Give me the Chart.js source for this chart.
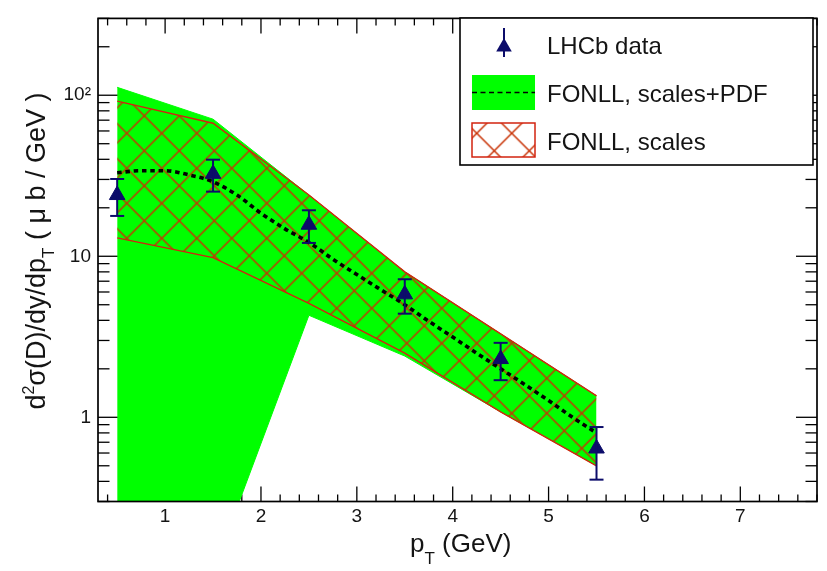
<!DOCTYPE html>
<html>
<head>
<meta charset="utf-8">
<script src="https://cdn.jsdelivr.net/npm/chart.js@4.4.1/dist/chart.umd.min.js"></script>
<style>
  html, body { margin: 0; padding: 0; background: #fff; }
  #wrap { width: 827px; height: 571px; }
</style>
</head>
<body>
<div id="wrap"><canvas id="c" width="827" height="571"></canvas></div>
<script>
// pT bin centres (GeV)
const ptBins = [0.5, 1.5, 2.5, 3.5, 4.5, 5.5];

// LHCb measurement and its (symmetric) uncertainty, in microbarn/GeV
const lhcbValues = [24, 32.5, 15.7, 5.8, 2.3, 0.64];
const lhcbErrors = [6.2, 7.3, 3.6, 1.4, 0.6, 0.23];

// FONLL envelope: scales + PDF uncertainty
const pdfUpper = [112, 71, 24, 8.0, 3.3, 1.36];
const pdfLower = [0.08, 0.11, 4.3, 2.4, 1.08, 0.5];

// FONLL envelope: scale uncertainty only
const scalesUpper = [92, 67, 24, 8.0, 3.3, 1.36];
const scalesLower = [13.0, 9.8, 5.1, 2.5, 1.08, 0.5];

// FONLL central prediction
const centralPt = [0.5, 0.75, 1.0, 1.25, 1.5, 1.75, 2.0, 2.25, 2.5, 2.75, 3.0,
                   3.25, 3.5, 3.75, 4.0, 4.25, 4.5, 4.75, 5.0, 5.25, 5.5];
const centralValues = [33, 34, 34, 32, 29, 24, 18.5, 14.8, 12.2, 9.6, 7.7,
                       6.2, 5.0, 3.95, 3.15, 2.5, 2.0, 1.6, 1.27, 1.0, 0.80];

// axis ticks
const xTickValues = [1, 2, 3, 4, 5, 6, 7];
const xTickLabels = ['1', '2', '3', '4', '5', '6', '7'];
const yTickValues = [1, 10, 100];
const yTickLabels = ['1', '10', '10\u00B2'];

const FONT = '"Liberation Sans", Arial, Helvetica, sans-serif';
const NAVY = '#0c0c6a';
const RED = 'rgb(210,35,15)';
const GREEN = '#00ff00';
const TEXT = '#141414';

const ctx0 = document.getElementById('c').getContext('2d');

// cross-hatch tile for the scale-only band
const hatchTile = (() => {
  const s = 35;
  const c = document.createElement('canvas');
  c.width = s; c.height = s;
  const g = c.getContext('2d');
  g.strokeStyle = 'rgb(200,50,5)';
  g.lineWidth = 1.5;
  g.beginPath();
  for (const o of [-s, 0, s]) {
    g.moveTo(o, 0); g.lineTo(o + s, s);
    g.moveTo(o + s, 0); g.lineTo(o, s);
  }
  g.stroke();
  return c;
})();
const hatch = ctx0.createPattern(hatchTile, 'repeat');
if (hatch.setTransform) hatch.setTransform(new DOMMatrix([1, 0, 0, 1, 21.7, 28.3]));

const pts = (xs, ys) => xs.map((x, i) => ({ x, y: ys[i] }));

function richText(ctx, parts, x, y, align) {
  let w = 0;
  for (const p of parts) { ctx.font = p[1] + 'px ' + FONT; w += ctx.measureText(p[0]).width; }
  let cx = align === 'center' ? x - w / 2 : x;
  for (const p of parts) {
    ctx.font = p[1] + 'px ' + FONT;
    ctx.fillText(p[0], cx, y + p[2]);
    cx += ctx.measureText(p[0]).width;
  }
}

function line(ctx, x1, y1, x2, y2) {
  ctx.beginPath(); ctx.moveTo(x1, y1); ctx.lineTo(x2, y2); ctx.stroke();
}

function triangle(ctx, x, y, r) {
  ctx.beginPath();
  ctx.moveTo(x, y - r);
  ctx.lineTo(x + r * 0.866, y + r / 2);
  ctx.lineTo(x - r * 0.866, y + r / 2);
  ctx.closePath();
  ctx.fill();
}

const rootStyle = {
  id: 'rootStyle',
  // inward tick marks on all four sides
  beforeDatasetsDraw(chart) {
    const { ctx, chartArea: a, scales: { x, y } } = chart;
    ctx.save();
    ctx.strokeStyle = '#000';
    ctx.lineWidth = 1.3;
    const step = xTickValues[1] - xTickValues[0];
    for (let v = Math.ceil(x.min / (step / 5)) * (step / 5); v <= x.max + 1e-9; v += step / 5) {
      const major = Math.abs(v - Math.round(v / step) * step) < 1e-6;
      const px = x.getPixelForValue(v);
      const len = major ? 15 : 7;
      line(ctx, px, a.bottom, px, a.bottom - len);
      line(ctx, px, a.top, px, a.top + len);
    }
    for (let e = -1; e <= 2; e++) {
      for (let m = 1; m <= 9; m++) {
        const v = m * Math.pow(10, e);
        if (v < y.min || v > y.max) continue;
        const py = y.getPixelForValue(v);
        const len = m === 1 ? 21 : 11.5;
        line(ctx, a.left, py, a.left + len, py);
        line(ctx, a.right, py, a.right - len, py);
      }
    }
    ctx.restore();
  },
  afterDatasetsDraw(chart) {
    const { ctx, chartArea: a, scales: { x, y } } = chart;
    ctx.save();
    // error bars on the measurement
    ctx.strokeStyle = NAVY;
    ctx.lineWidth = 2;
    ptBins.forEach((xv, i) => {
      const px = x.getPixelForValue(xv);
      const yt = y.getPixelForValue(lhcbValues[i] + lhcbErrors[i]);
      const yb = y.getPixelForValue(lhcbValues[i] - lhcbErrors[i]);
      line(ctx, px, yt, px, yb);
      line(ctx, px - 7, yt, px + 7, yt);
      line(ctx, px - 7, yb, px + 7, yb);
    });
    // frame
    ctx.strokeStyle = '#000';
    ctx.lineWidth = 1.7;
    ctx.strokeRect(a.left, a.top, a.right - a.left, a.bottom - a.top);
    ctx.restore();
  },
  afterDraw(chart) {
    const { ctx } = chart;
    ctx.save();
    ctx.fillStyle = TEXT;
    ctx.textBaseline = 'alphabetic';

    // x-axis title
    richText(ctx, [['p', 26, 0], ['T', 17, 12], [' (GeV)', 26, 0]], 410, 552, 'left');

    // y-axis title
    ctx.save();
    ctx.translate(45, 251);
    ctx.rotate(-Math.PI / 2);
    richText(ctx, [
      ['d', 27, 0], ['2', 16, -11], ['\u03C3(D)/dy/dp', 27, 0], ['T', 17, 9],
      [' ( \u03BC b / GeV )', 27, 0]
    ], 0, 0, 'center');
    ctx.restore();

    // legend
    const L = { x: 460, y: 18, w: 353, h: 147 };
    ctx.fillStyle = '#fff';
    ctx.fillRect(L.x, L.y, L.w, L.h);
    ctx.strokeStyle = '#000';
    ctx.lineWidth = 1.6;
    ctx.strokeRect(L.x, L.y, L.w, L.h);

    // measurement entry
    ctx.strokeStyle = NAVY;
    ctx.fillStyle = NAVY;
    ctx.lineWidth = 2;
    line(ctx, 504, 28, 504, 57);
    triangle(ctx, 504, 47, 9);

    // scales+PDF entry
    ctx.fillStyle = GREEN;
    ctx.fillRect(472, 75, 63, 35);
    ctx.strokeStyle = '#000';
    ctx.lineWidth = 1.5;
    ctx.setLineDash([5, 3.5]);
    line(ctx, 472, 92.5, 535, 92.5);
    ctx.setLineDash([]);

    // scales-only entry
    ctx.fillStyle = hatch;
    ctx.fillRect(472, 123, 63, 34);
    ctx.strokeStyle = RED;
    ctx.lineWidth = 1.5;
    ctx.strokeRect(472, 123, 63, 34);

    ctx.fillStyle = TEXT;
    ctx.font = '24px ' + FONT;
    ctx.fillText('LHCb data', 547, 53.5);
    ctx.fillText('FONLL, scales+PDF', 547, 101.5);
    ctx.fillText('FONLL, scales', 547, 150);
    ctx.restore();
  }
};

new Chart(ctx0, {
  type: 'scatter',
  data: {
    datasets: [
      {
        label: 'LHCb data',
        data: pts(ptBins, lhcbValues),
        pointStyle: 'triangle',
        pointRadius: 9,
        backgroundColor: NAVY,
        borderColor: NAVY,
        borderWidth: 1,
        order: 0
      },
      {
        label: 'FONLL central',
        type: 'line',
        data: pts(centralPt, centralValues),
        borderColor: '#000',
        borderWidth: 3.6,
        borderDash: [4.5, 3.8],
        pointRadius: 0,
        tension: 0.4,
        cubicInterpolationMode: 'monotone',
        fill: false,
        order: 1
      },
      {
        label: 'FONLL, scales (low)',
        type: 'line',
        data: pts(ptBins, scalesLower),
        borderColor: RED,
        borderWidth: 1.4,
        pointRadius: 0,
        fill: false,
        order: 2
      },
      {
        label: 'FONLL, scales',
        type: 'line',
        data: pts(ptBins, scalesUpper),
        borderColor: RED,
        borderWidth: 1.4,
        backgroundColor: hatch,
        pointRadius: 0,
        fill: 2,
        order: 3
      },
      {
        label: 'FONLL, scales+PDF (low)',
        type: 'line',
        data: pts(ptBins, pdfLower),
        borderColor: GREEN,
        borderWidth: 1,
        pointRadius: 0,
        fill: false,
        order: 4
      },
      {
        label: 'FONLL, scales+PDF',
        type: 'line',
        data: pts(ptBins, pdfUpper),
        borderColor: GREEN,
        borderWidth: 1,
        backgroundColor: GREEN,
        pointRadius: 0,
        fill: 4,
        order: 5
      }
    ]
  },
  options: {
    responsive: false,
    animation: false,
    events: [],
    layout: { padding: { top: 13, right: 6, left: 0, bottom: 0 } },
    plugins: { legend: { display: false }, tooltip: { enabled: false } },
    scales: {
      x: {
        type: 'linear',
        min: 0.3,
        max: 7.8,
        grid: { display: false, drawTicks: false },
        border: { display: false },
        afterBuildTicks: s => { s.ticks = xTickValues.map(v => ({ value: v })); },
        afterFit: s => { s.height = 69.5; },
        ticks: {
          padding: 4,
          maxRotation: 0,
          autoSkip: false,
          color: TEXT,
          font: { family: FONT, size: 19 },
          callback: (v, i) => xTickLabels[i]
        }
      },
      y: {
        type: 'logarithmic',
        min: 0.3,
        max: 300,
        grid: { display: false, drawTicks: false },
        border: { display: false },
        afterBuildTicks: s => { s.ticks = yTickValues.map(v => ({ value: v, major: true })); },
        afterFit: s => { s.width = 98; },
        ticks: {
          padding: 7,
          autoSkip: false,
          color: TEXT,
          font: { family: FONT, size: 19 },
          callback: (v, i) => yTickLabels[i]
        }
      }
    }
  },
  plugins: [rootStyle]
});
</script>
</body>
</html>
